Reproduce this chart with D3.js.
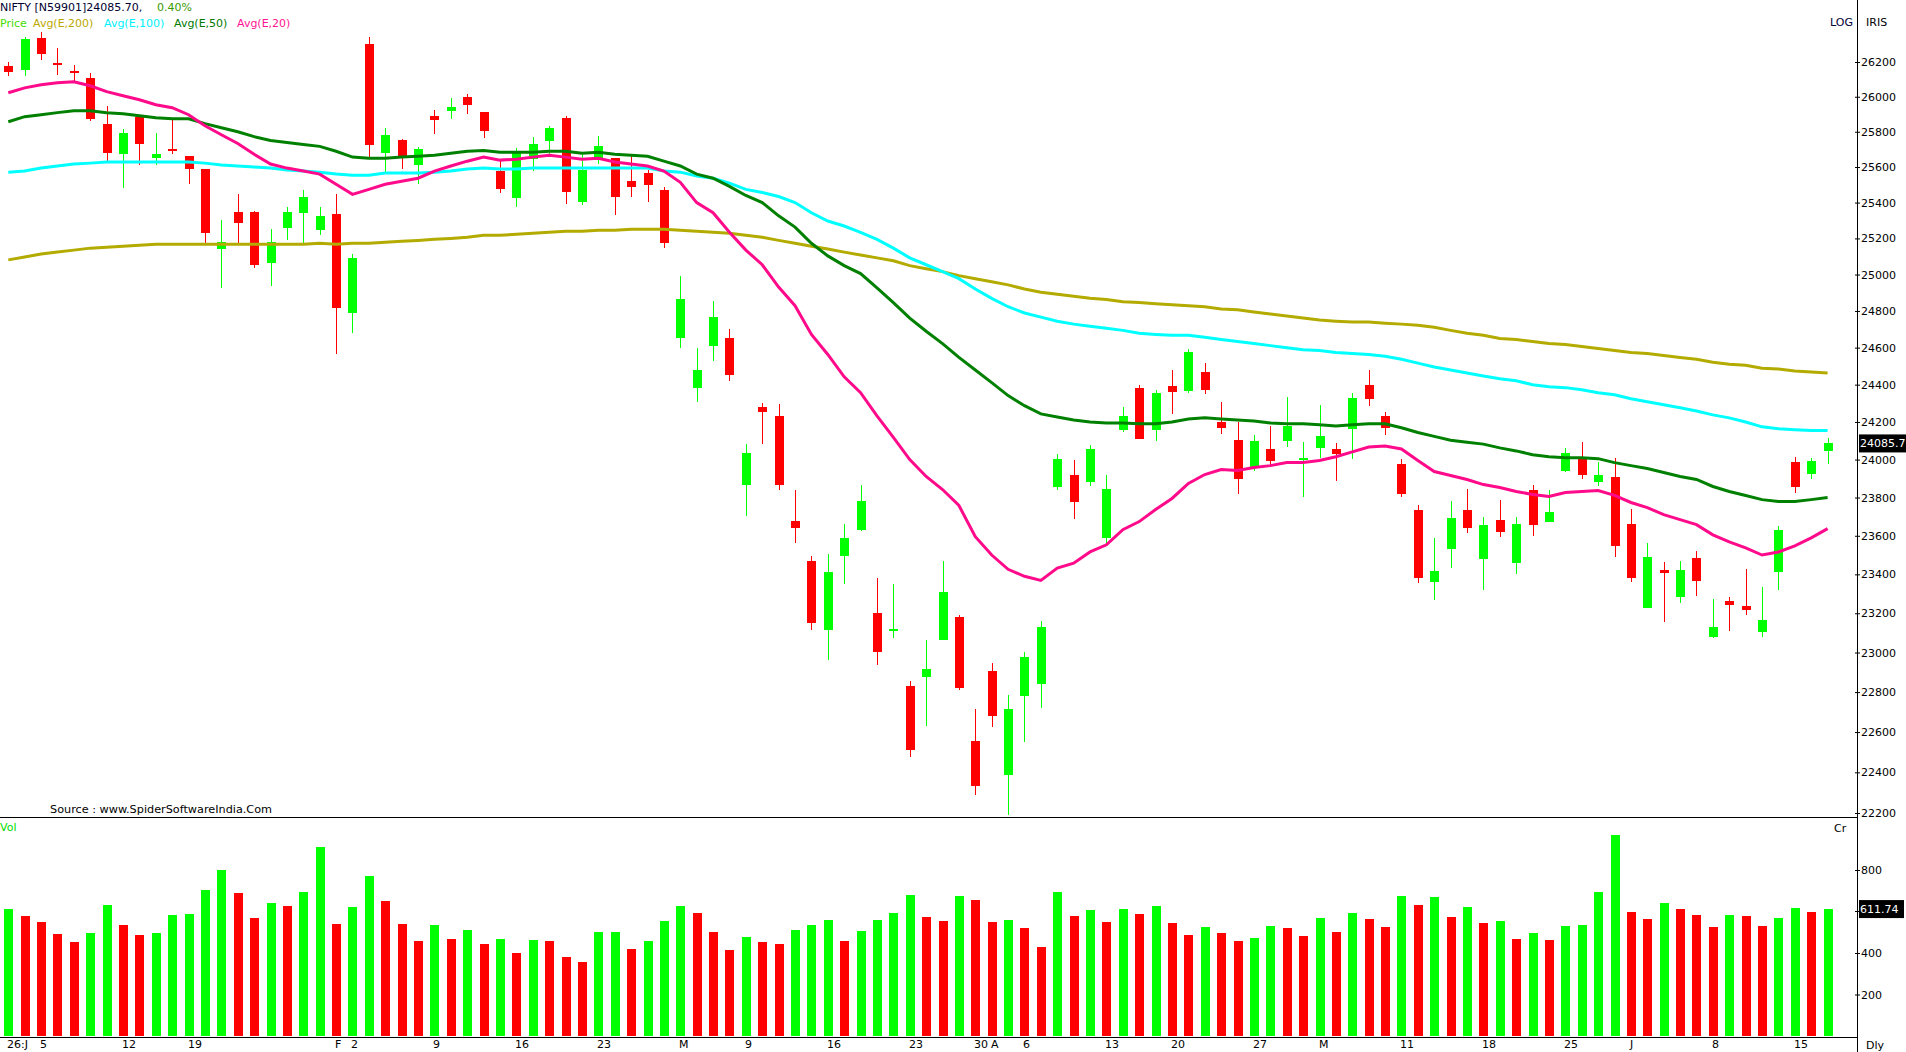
<!DOCTYPE html>
<html>
<head>
<meta charset="utf-8">
<script src="https://cdn.jsdelivr.net/npm/d3@7"></script>
<style>
  html, body { margin: 0; padding: 0; background: #fff; overflow: hidden; }
  svg { display: block; }
  text { font-family: "DejaVu Sans", sans-serif; font-size: 11px; }
</style>
</head>
<body>
<svg id="chart" width="1906" height="1052"></svg>
<script>
// daily NIFTY candles, 1 Jan .. 17 Jun (index = trading day)
const opens  = [26175,26155,26340,26195,26150,26108,25844,25672,25886,25651,25703,25660,25588,25140,25349,25349,25066,25257,25343,25246,
  25337,24789,26305,25679,25755,25611,25892,25920,26000,25914,25577,25423,25645,25749,25880,25406,25640,25651,25520,25565,
  25469,24650,24384,24610,24655,23868,24281,24232,23679,23469,23115,23495,23631,23200,23115,22831,22877,23065,23180,22556,
  22908,22385,22780,22841,23857,23916,23884,23590,24159,24384,24159,24395,24368,24468,24200,24102,23963,24057,24097,24005,
  24062,24057,24164,24400,24232,23979,23732,23359,23532,23737,23479,23684,23458,23837,23674,23942,24015,23884,23910,23663,
  23226,23421,23282,23484,23080,23262,23236,23105,23411,23989,23926,24047];
const highs  = [26200,26345,26375,26280,26185,26135,25947,25817,25890,25794,25869,25662,25590,25303,25446,25355,25250,25377,25469,25377,
  25446,25114,26345,25823,25760,25714,25926,25995,26017,25915,25634,25708,25771,25834,25892,25674,25777,25652,25662,25582,
  25486,24994,24600,24856,24700,24082,24303,24297,23842,23495,23505,23663,23868,23380,23349,22856,23065,23469,23190,22717,
  22949,22785,23005,23160,24031,24000,24077,23916,24281,24400,24373,24479,24595,24516,24308,24200,24133,24179,24335,24092,
  24292,24087,24357,24479,24254,24005,23763,23590,23784,23847,23700,23789,23700,23868,23842,24062,24092,23989,24010,23742,
  23564,23463,23469,23521,23272,23282,23426,23334,23653,24015,24010,24113];
const lows   = [26120,26120,26210,26125,26080,25862,25628,25480,25611,25611,25672,25503,25172,24925,25172,25035,24936,25189,25172,25217,
  24568,24677,25653,25572,25588,25503,25788,25875,25903,25766,25452,25377,25577,25674,25394,25389,25617,25332,25434,25406,
  25145,24600,24308,24526,24421,23705,24082,23842,23564,23115,22964,23349,23626,22939,23075,22478,22630,23065,22810,22290,
  22625,22190,22551,22722,23837,23689,23863,23564,24148,24108,24097,24243,24357,24351,24138,23821,23942,23968,24067,23805,
  24010,23889,24005,24287,24128,23805,23354,23267,23432,23616,23318,23595,23400,23600,23674,23932,23895,23863,23490,23359,
  23226,23155,23251,23287,23075,23110,23190,23080,23318,23826,23895,23979];
const closes = [26140,26335,26245,26180,26138,25873,25680,25794,25731,25672,25691,25588,25229,25178,25286,25050,25178,25349,25429,25326,
  24817,25092,25725,25783,25660,25702,25869,25943,25954,25805,25474,25679,25731,25823,25457,25582,25720,25429,25486,25497,
  25172,24868,24479,24766,24453,24036,24254,23868,23642,23150,23411,23590,23784,23005,23120,22512,22918,23308,22821,22335,
  22680,22717,22975,23130,24005,23779,24057,23847,24232,24108,24357,24362,24574,24373,24169,23900,24097,23995,24179,24010,
  24123,24031,24330,24324,24169,23816,23379,23416,23695,23642,23658,23621,23663,23658,23726,24036,23916,23916,23547,23379,
  23490,23405,23421,23364,23130,23241,23215,23165,23631,23857,23995,24085.70];
// volume, crore
const volumes = [612,578,549,492,453,496,631,535,487,496,583,588,704,800,689,569,641,627,694,911,
  540,622,771,651,540,458,535,467,511,443,467,400,463,460,381,357,501,503,419,458,
  554,627,593,501,414,477,453,443,511,535,559,458,506,559,593,680,573,554,675,655,
  549,559,520,429,694,578,607,549,612,588,627,545,487,525,496,458,472,530,520,482,
  569,501,593,564,525,675,631,670,573,622,545,554,467,496,463,530,535,694,969,598,
  564,641,612,583,525,583,578,530,569,617,598,611.74];
// moving averages
const ema20 = [26023,26051,26069,26080,26086,26063,26029,26006,25983,25954,25937,25897,25834,25783,25733,25672,25617,25594,25577,25560,
  25503,25446,25474,25503,25520,25537,25577,25606,25633,25656,25639,25644,25656,25667,25656,25644,25650,25628,25617,25606,
  25577,25514,25400,25343,25234,25135,25054,24931,24829,24672,24563,24442,24357,24232,24118,24000,23911,23842,23758,23595,
  23500,23426,23390,23369,23432,23458,23516,23553,23632,23674,23737,23795,23874,23921,23947,23942,23958,23968,23984,23984,
  23995,24015,24041,24067,24072,24056,23995,23937,23916,23895,23868,23853,23832,23816,23805,23826,23832,23837,23811,23774,
  23747,23710,23684,23658,23605,23568,23537,23500,23516,23547,23589,23637];
const ema50 = [25857,25886,25897,25909,25920,25920,25909,25903,25891,25880,25874,25874,25846,25823,25800,25772,25750,25739,25728,25717,
  25689,25656,25650,25650,25656,25661,25667,25678,25689,25694,25683,25683,25683,25689,25689,25678,25683,25672,25667,25661,
  25633,25606,25560,25537,25491,25440,25400,25326,25263,25173,25103,25049,25005,24926,24846,24761,24689,24622,24547,24479,
  24411,24341,24287,24243,24227,24211,24200,24195,24195,24190,24190,24200,24216,24222,24216,24211,24205,24195,24190,24190,
  24185,24179,24185,24190,24190,24169,24144,24123,24103,24092,24082,24062,24046,24026,24015,24010,24010,24005,23984,23968,
  23953,23932,23911,23895,23858,23832,23811,23789,23779,23779,23789,23800];
const ema100 = [25571,25577,25594,25606,25617,25622,25628,25628,25628,25628,25628,25628,25622,25611,25606,25600,25594,25583,25577,25571,
  25560,25554,25554,25566,25566,25566,25571,25577,25589,25594,25589,25589,25594,25594,25594,25594,25594,25594,25594,25594,
  25577,25571,25549,25537,25509,25474,25457,25434,25400,25343,25297,25269,25234,25195,25146,25092,25054,25016,24977,24920,
  24869,24823,24789,24766,24744,24728,24717,24706,24694,24678,24672,24667,24667,24656,24644,24633,24622,24611,24600,24589,
  24584,24574,24568,24563,24553,24537,24516,24495,24479,24463,24447,24432,24421,24400,24389,24384,24373,24357,24346,24324,
  24308,24292,24276,24259,24238,24222,24200,24174,24164,24159,24154,24154];
const ema200 = [25081,25097,25114,25124,25135,25146,25151,25157,25162,25168,25168,25168,25168,25168,25168,25168,25168,25168,25168,25173,
  25168,25173,25173,25178,25184,25189,25195,25200,25206,25217,25217,25223,25229,25234,25240,25240,25246,25246,25251,25251,
  25251,25246,25240,25234,25229,25217,25206,25189,25173,25157,25141,25124,25108,25092,25076,25049,25032,25016,24994,24977,
  24960,24943,24920,24903,24891,24880,24869,24863,24851,24846,24840,24834,24829,24823,24811,24806,24794,24783,24772,24761,
  24750,24744,24739,24739,24733,24728,24722,24711,24694,24678,24667,24650,24644,24633,24622,24617,24606,24595,24584,24574,
  24568,24558,24547,24537,24521,24510,24505,24489,24484,24474,24468,24463];

const dateLabels = ["26:J","5","12","19","F","2","9","16","23","M","9","16","23","30","A","6","13","20","27","M","11","18","25","J","8","15"];
const dateIdx    = [0,2,7,11,20,21,26,31,36,41,45,50,55,59,60,62,67,71,76,80,85,90,95,99,104,109];
const priceTicks = d3.range(22200, 26201, 200);
const volTicks   = [200, 400, 800];   // 600 sits under the last-value box

const RED = "#ff0000", GREEN = "#00ff00";
const axisX = 1857;

const svg = d3.select("#chart");

const x  = d3.scaleLinear().domain([0, opens.length - 1]).range([8.3, 1827.6]);
const y  = d3.scaleLog().domain([22200, 26200]).range([813, 62]);
const yv = d3.scaleLinear().domain([0, 800]).range([1036, 870]);

const candles = opens.map((o, i) => ({i, o, h: highs[i], l: lows[i], c: closes[i], v: volumes[i]}));
const px = d => Math.round(x(d.i));

// price panel
const pg = svg.append("g").attr("shape-rendering", "crispEdges");
pg.selectAll("line.wick").data(candles).join("line")
  .attr("class", "wick")
  .attr("x1", d => px(d) + 0.5).attr("x2", d => px(d) + 0.5)
  .attr("y1", d => y(d.h)).attr("y2", d => y(d.l))
  .attr("stroke", d => d.c >= d.o ? GREEN : RED)
  .attr("stroke-width", 1);
pg.selectAll("rect.body").data(candles).join("rect")
  .attr("class", "body")
  .attr("x", d => px(d) - 4)
  .attr("width", 9)
  .attr("y", d => y(Math.max(d.o, d.c)))
  .attr("height", d => Math.max(2, Math.abs(y(d.o) - y(d.c))))
  .attr("fill", d => d.c >= d.o ? GREEN : RED);

const line = d3.line().x((d, i) => x(i)).y(d => y(d));
[[ema200, "#b4ab00"], [ema100, "#00ffff"], [ema50, "#008000"], [ema20, "#ff0a8a"]].forEach(([s, col]) => {
  svg.append("path").datum(s)
    .attr("d", line)
    .attr("fill", "none")
    .attr("stroke", col)
    .attr("stroke-width", 3);
});

// volume panel, green when volume is above the previous day
svg.append("g").attr("shape-rendering", "crispEdges")
  .selectAll("rect").data(candles).join("rect")
  .attr("x", d => px(d) - 4)
  .attr("width", 9)
  .attr("y", d => yv(d.v))
  .attr("height", d => yv(0) - yv(d.v))
  .attr("fill", d => (d.i === 0 || d.v > volumes[d.i - 1]) ? GREEN : RED);

// frame lines
const frame = svg.append("g").attr("stroke", "#000").attr("shape-rendering", "crispEdges");
frame.append("line").attr("x1", 0).attr("x2", axisX).attr("y1", 817.5).attr("y2", 817.5);
frame.append("line").attr("x1", 0).attr("x2", axisX).attr("y1", 1037.5).attr("y2", 1037.5);
frame.append("line").attr("x1", axisX + 0.5).attr("x2", axisX + 0.5).attr("y1", 0).attr("y2", 1052);

// right axes
function styleAxis(g) {
  g.select(".domain").remove();
  g.attr("font-family", "DejaVu Sans, sans-serif").attr("font-size", 11);
  g.selectAll(".tick line").attr("x1", -2).attr("stroke", "#000");
  g.selectAll(".tick text").attr("fill", "#000");
}
svg.append("g")
  .attr("transform", `translate(${axisX},0)`)
  .call(d3.axisRight(y).tickValues(priceTicks).tickFormat(d3.format("d")).tickSize(3).tickPadding(1))
  .call(styleAxis);
svg.append("g")
  .attr("transform", `translate(${axisX},0)`)
  .call(d3.axisRight(yv).tickValues(volTicks).tickFormat(d3.format("d")).tickSize(3).tickPadding(1))
  .call(styleAxis);
// tick mark only for 600
svg.append("line").attr("x1", axisX - 2).attr("x2", axisX + 3)
  .attr("y1", yv(600)).attr("y2", yv(600)).attr("stroke", "#000");

// last value boxes
const lastC = closes[closes.length - 1], lastV = volumes[volumes.length - 1];
svg.append("rect").attr("x", axisX + 2).attr("y", y(lastC) - 9).attr("width", 50).attr("height", 18).attr("fill", "#000");
svg.append("text").attr("x", axisX + 3).attr("y", y(lastC) + 4).attr("fill", "#fff").text(d3.format(".1f")(lastC));
svg.append("rect").attr("x", axisX + 2).attr("y", yv(lastV) - 9).attr("width", 45).attr("height", 18).attr("fill", "#000");
svg.append("text").attr("x", axisX + 3).attr("y", yv(lastV) + 4).attr("fill", "#fff").text(d3.format(".2f")(lastV));

// date labels
svg.append("g").selectAll("text").data(dateIdx).join("text")
  .attr("x", d => Math.round(x(d)) - 1)
  .attr("y", 1048)
  .attr("font-family", "Liberation Sans Narrow, DejaVu Sans Condensed, sans-serif")
  .attr("font-size", 12)
  .attr("fill", "#000")
  .text((d, i) => dateLabels[i]);

// titles and legend
svg.append("text").attr("x", 0).attr("y", 11).attr("fill", "#000033").text("NIFTY [N59901]24085.70,");
svg.append("text").attr("x", 157).attr("y", 11).attr("fill", "#3a9a00").text("0.40%");
const legend = [["Price", 0, "#44dd00"], ["Avg(E,200)", 33, "#bba800"], ["Avg(E,100)", 104, "#00f0ff"],
                ["Avg(E,50)", 174, "#007a00"], ["Avg(E,20)", 237, "#ff1493"]];
svg.append("g").selectAll("text").data(legend).join("text")
  .attr("x", d => d[1]).attr("y", 27).attr("fill", d => d[2]).text(d => d[0]);

svg.append("text").attr("x", 1853).attr("y", 26).attr("text-anchor", "end").attr("fill", "#000033").text("LOG");
svg.append("text").attr("x", 1866).attr("y", 26).attr("fill", "#000").text("IRIS");
svg.append("text").attr("x", 50).attr("y", 813)
  .attr("font-family", "Liberation Sans Narrow, DejaVu Sans Condensed, sans-serif")
  .attr("font-size", 13).attr("textLength", 222).attr("lengthAdjust", "spacingAndGlyphs")
  .attr("fill", "#000").text("Source : www.SpiderSoftwareIndia.Com");
svg.append("text").attr("x", 0).attr("y", 831).attr("fill", "#00e000").text("Vol");
svg.append("text").attr("x", 1834).attr("y", 832).attr("fill", "#000").text("Cr");
svg.append("text").attr("x", 1866).attr("y", 1049).attr("fill", "#000").text("Dly");
</script>
</body>
</html>
